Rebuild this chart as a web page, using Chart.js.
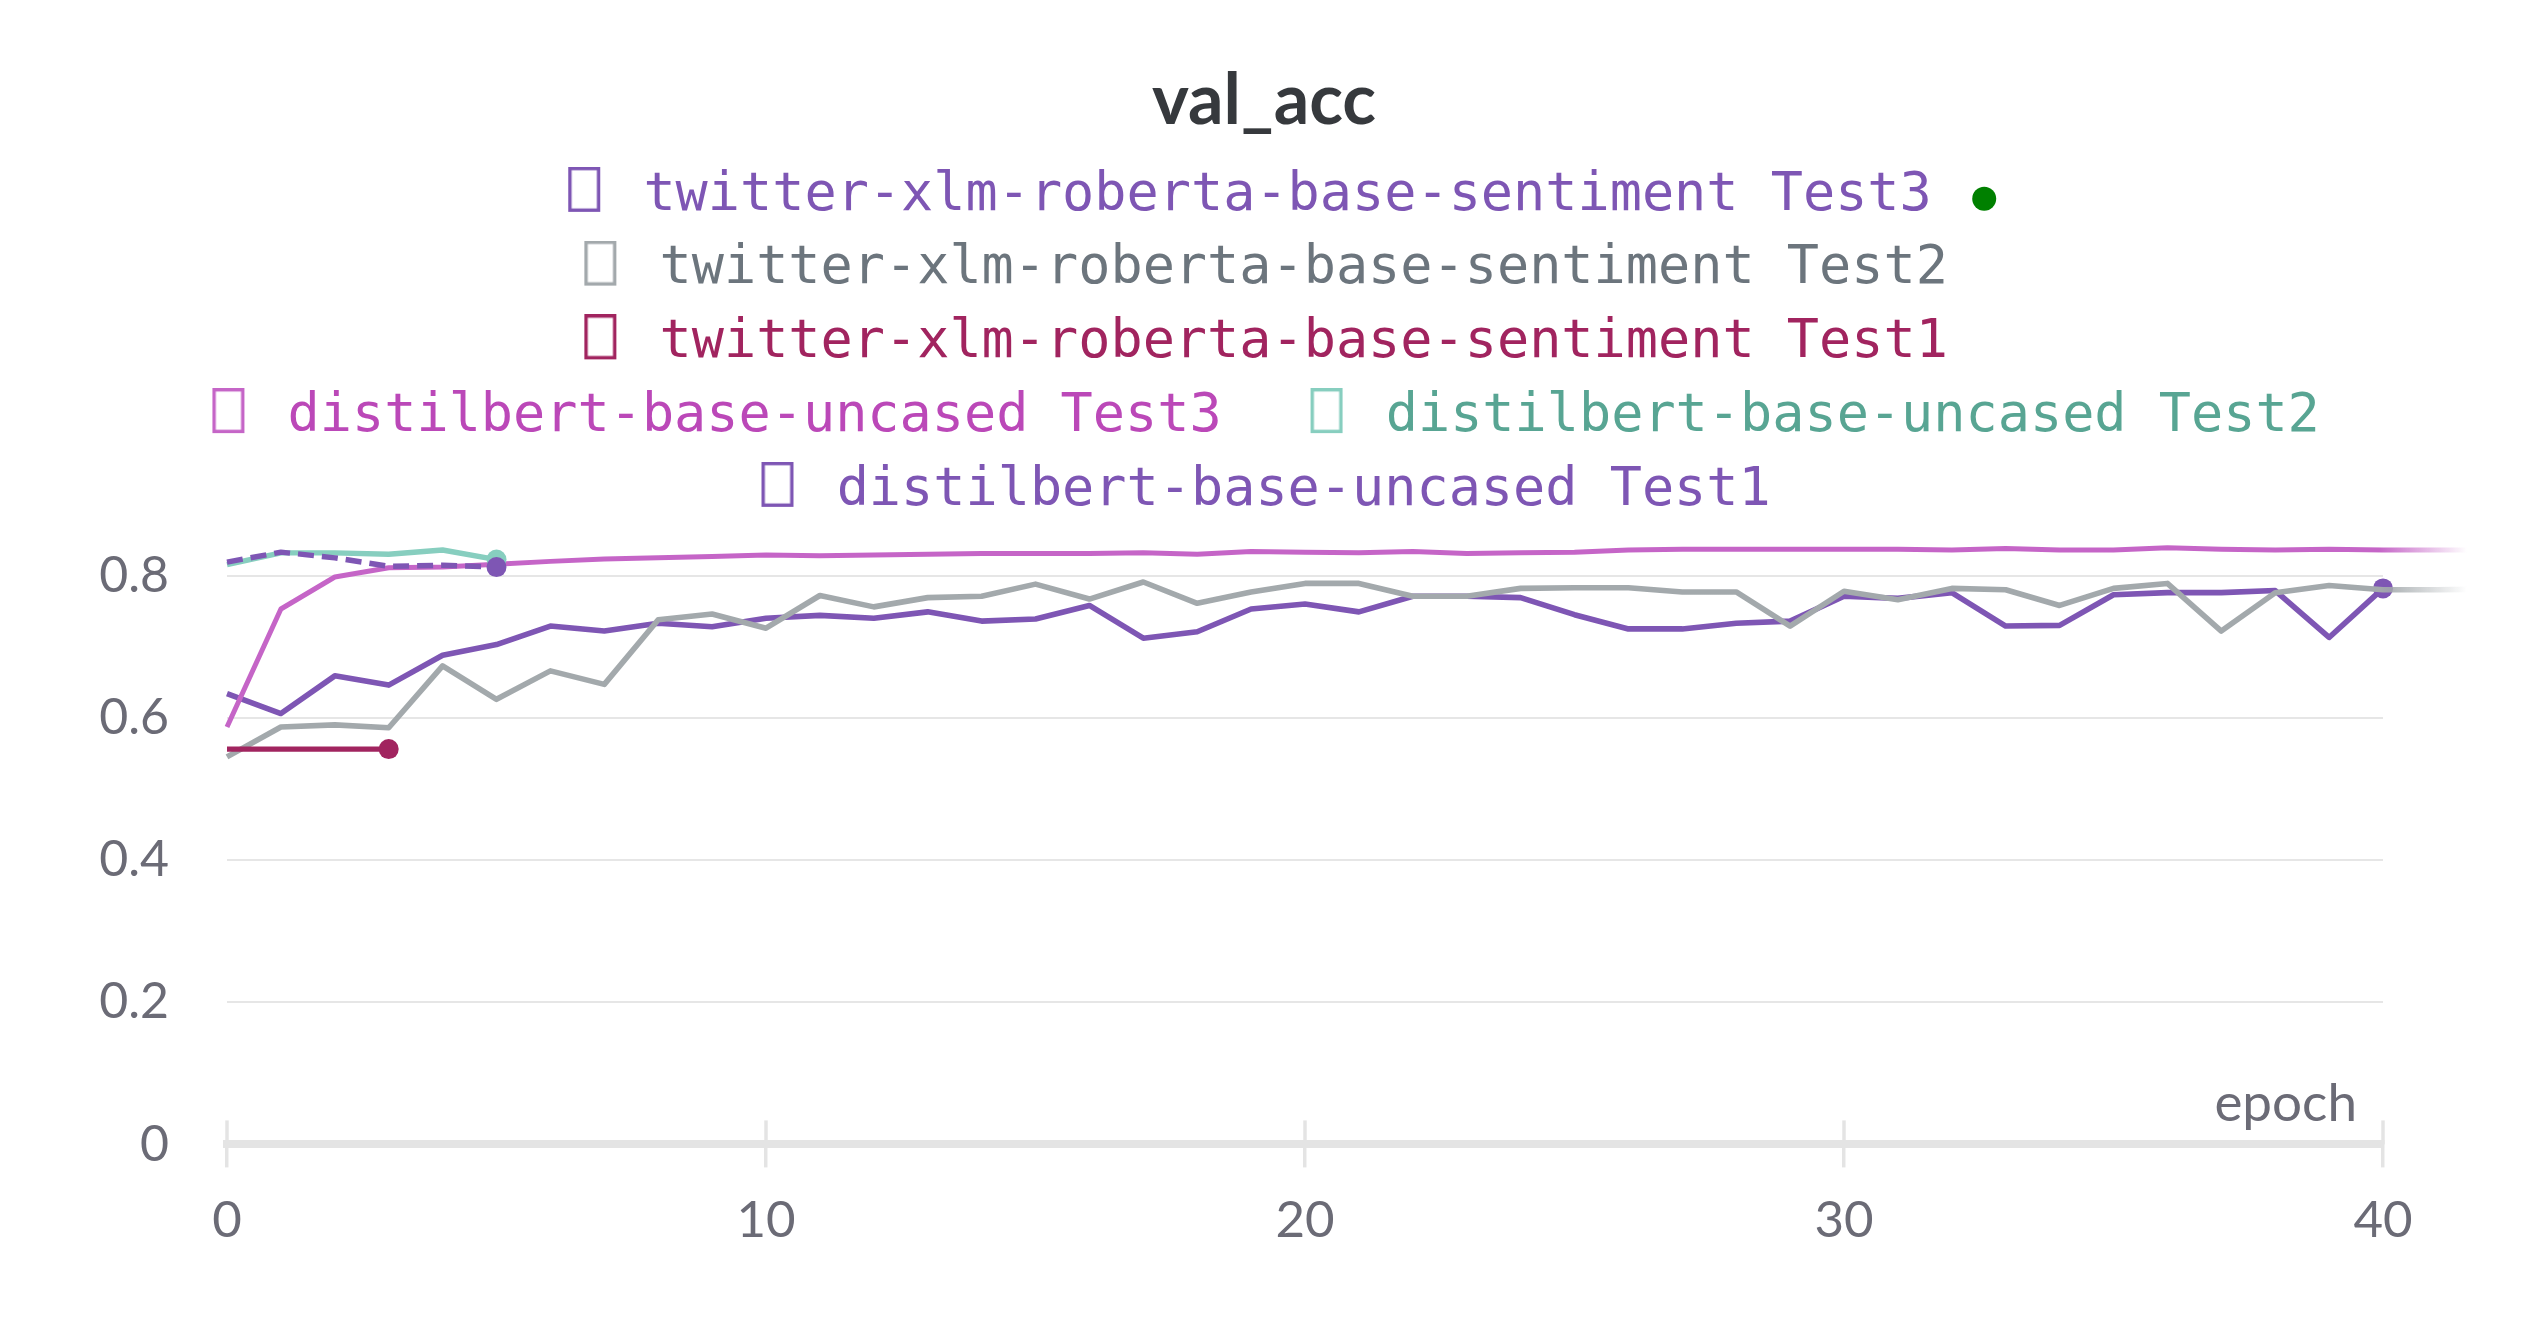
<!DOCTYPE html>
<html>
<head>
<meta charset="utf-8">
<script src="https://cdn.jsdelivr.net/npm/chart.js@4.4.0/dist/chart.umd.min.js"></script>
<style>
html,body{margin:0;padding:0;background:#ffffff;}
#wrap{width:2528px;height:1328px;position:relative;}
</style>
</head>
<body>
<div id="wrap"><canvas id="c" width="2528" height="1328"></canvas></div>
<script>
// ---------------- data ----------------
const chartTitle = 'val_acc';
const xAxisTitle = 'epoch';
const epochs = [0,1,2,3,4,5,6,7,8,9,10,11,12,13,14,15,16,17,18,19,20,21,22,23,24,25,26,27,28,29,30,31,32,33,34,35,36,37,38,39,40,41,42];
const xTicks = [0,10,20,30,40];
const yTicks = [0,0.2,0.4,0.6,0.8];

const seriesNames = [
  'twitter-xlm-roberta-base-sentiment Test3',
  'twitter-xlm-roberta-base-sentiment Test2',
  'twitter-xlm-roberta-base-sentiment Test1',
  'distilbert-base-uncased Test3',
  'distilbert-base-uncased Test2',
  'distilbert-base-uncased Test1'
];

// twitter-xlm-roberta-base-sentiment Test3 (epochs 0..40)
const twitterTest3 = [0.634,0.606,0.659,0.646,0.688,0.703,0.729,0.722,0.733,0.728,0.740,0.744,0.740,0.749,0.736,0.739,0.758,0.712,0.721,0.753,0.760,0.749,0.771,0.771,0.769,0.745,0.725,0.725,0.733,0.736,0.771,0.768,0.776,0.729,0.730,0.773,0.776,0.776,0.779,0.713,0.782];
// twitter-xlm-roberta-base-sentiment Test2 (epochs 0..42)
const twitterTest2 = [0.545,0.587,0.590,0.586,0.673,0.626,0.666,0.647,0.738,0.746,0.726,0.772,0.756,0.769,0.771,0.788,0.767,0.791,0.761,0.777,0.789,0.789,0.771,0.771,0.782,0.783,0.783,0.777,0.777,0.729,0.778,0.766,0.782,0.780,0.758,0.782,0.789,0.722,0.776,0.786,0.780,0.780,0.781];
// twitter-xlm-roberta-base-sentiment Test1 (epochs 0..3)
const twitterTest1 = [0.556,0.556,0.556,0.556];
// distilbert-base-uncased Test3 (epochs 0..42)
const distilTest3 = [0.587,0.753,0.798,0.811,0.812,0.816,0.820,0.8235,0.825,0.827,0.829,0.828,0.829,0.830,0.831,0.831,0.831,0.832,0.830,0.834,0.833,0.832,0.834,0.831,0.832,0.833,0.836,0.837,0.837,0.837,0.837,0.837,0.836,0.838,0.836,0.836,0.839,0.837,0.836,0.837,0.836,0.836,0.836];
// distilbert-base-uncased Test2 (epochs 0..5)
const distilTest2 = [0.8155,0.832,0.832,0.830,0.836,0.8225];
// distilbert-base-uncased Test1 (epochs 0..5)
const distilTest1 = [0.819,0.833,0.825,0.813,0.8145,0.812];

const seriesValues = [twitterTest3, twitterTest2, twitterTest1, distilTest3, distilTest2, distilTest1];

// ---------------- styles ----------------
const lineColors = ['#7e56b4','#a3a9ac','#a1245f','#c565c7','#87cebf','#7e56b4'];
const textColors = ['#7e56b4','#6c757d','#a1245f','#bb48b8','#58a593','#7e56b4'];
const lineWidths = [5.6,5.6,5.4,5.0,5.4,5.4];
const dashes = [[],[],[],[],[],[16,8]];
const endDots = [true,false,true,false,true,true];
const fades = [false,true,false,true,false,false];
const drawOrder = [6,5,4,3,2,1];
const axisTextColor = '#6b6b76';
const axisFont = 'Lato';

function fadeColor(hex) {
  return (ctx) => {
    const chart = ctx.chart;
    const a = chart.chartArea;
    if (!a) return hex;
    const g = chart.ctx.createLinearGradient(a.right - 4, 0, a.right + 84, 0);
    g.addColorStop(0, hex);
    g.addColorStop(1, hex + '00');
    return g;
  };
}

function boxImage(color) {
  const c = document.createElement('canvas');
  c.width = 54; c.height = 58;
  const g = c.getContext('2d');
  g.strokeStyle = color;
  g.lineWidth = 3.4;
  g.strokeRect(21 + 1.7, 1.7, 32 - 3.4, 45 - 3.4);
  return c;
}
const boxImages = lineColors.map(boxImage);

const datasets = seriesValues.map((vals, i) => {
  const last = vals.length - 1;
  return {
    label: seriesNames[i],
    data: vals.map((v, k) => ({x: epochs[k], y: v})),
    borderColor: fades[i] ? fadeColor(lineColors[i]) : lineColors[i],
    backgroundColor: lineColors[i],
    borderWidth: lineWidths[i],
    borderDash: dashes[i],
    borderCapStyle: 'butt',
    borderJoinStyle: 'round',
    tension: 0,
    fill: false,
    order: drawOrder[i],
    clip: {left: 20, top: 20, right: 88, bottom: 20},
    pointRadius: (ctx) => (endDots[i] && ctx.dataIndex === last) ? 10 : 0,
    pointHoverRadius: (ctx) => (endDots[i] && ctx.dataIndex === last) ? 10 : 0,
    pointBackgroundColor: lineColors[i],
    pointBorderColor: lineColors[i],
    pointBorderWidth: 0
  };
});

// ---------------- plugins ----------------
const extras = {
  id: 'extras',
  beforeDatasetsDraw(chart) {
    const x = chart.scales.x;
    const a = chart.chartArea;
    const ctx = chart.ctx;
    ctx.save();
    ctx.strokeStyle = '#e4e4e4';
    ctx.lineWidth = 3.5;
    x.ticks.forEach((t, i) => {
      const px = x.getPixelForTick(i);
      ctx.beginPath();
      ctx.moveTo(px, a.bottom - 24);
      ctx.lineTo(px, a.bottom);
      ctx.stroke();
    });
    ctx.restore();
  },
  afterDraw(chart) {
    const ctx = chart.ctx;
    const a = chart.chartArea;
    ctx.save();
    ctx.font = '400 53px ' + axisFont;
    ctx.fillStyle = axisTextColor;
    ctx.textAlign = 'right';
    ctx.textBaseline = 'alphabetic';
    ctx.fillText(xAxisTitle, a.right - 26, a.bottom - 23.5);
    // running indicator after the first legend entry
    const hb = chart.legend && chart.legend.legendHitBoxes && chart.legend.legendHitBoxes[0];
    if (hb) {
      ctx.fillStyle = '#008000';
      ctx.beginPath();
      ctx.arc(hb.left + hb.width - 12, hb.top + hb.height / 2 + 3, 12, 0, Math.PI * 2);
      ctx.fill();
    }
    ctx.restore();
  }
};

// ---------------- chart ----------------
new Chart(document.getElementById('c'), {
  type: 'line',
  data: {datasets},
  plugins: [extras],
  options: {
    responsive: false,
    animation: false,
    devicePixelRatio: 1,
    layout: {padding: {left: 60, right: 60, top: 0, bottom: 0}},
    plugins: {
      tooltip: {enabled: false},
      title: {
        display: true,
        text: chartTitle,
        color: '#36393d',
        font: {family: 'Lato', weight: 'bold', size: 70, lineHeight: 1.2},
        padding: {top: 59, bottom: 5.85}
      },
      legend: {
        display: true,
        position: 'top',
        align: 'center',
        labels: {
          usePointStyle: true,
          pointStyleWidth: 84.85,
          padding: 20.25,
          font: {family: 'DejaVu Sans Mono', size: 53.5},
          generateLabels: () => seriesNames.map((name, i) => ({
            text: name + (i === 0 ? '  ' : ' '),
            fontColor: textColors[i],
            pointStyle: boxImages[i],
            fillStyle: 'rgba(0,0,0,0)',
            strokeStyle: 'rgba(0,0,0,0)',
            lineWidth: 0,
            hidden: false,
            datasetIndex: i
          }))
        }
      }
    },
    scales: {
      x: {
        type: 'linear',
        afterDataLimits: (s) => { s.min = xTicks[0]; s.max = xTicks[xTicks.length - 1]; },
        afterFit: (s) => { s.height = 183.6; },
        afterBuildTicks: (s) => { s.ticks = xTicks.map(v => ({value: v})); s.min = xTicks[0]; s.max = xTicks[xTicks.length - 1]; },
        ticks: {
          stepSize: 10,
          padding: 23,
          color: axisTextColor,
          font: {family: axisFont, weight: '400', size: 51},
          maxRotation: 0,
          callback: (v) => String(v)
        },
        grid: {drawOnChartArea: false, drawTicks: true, tickLength: 23, color: '#e4e4e4', lineWidth: 3.5},
        border: {display: true, color: '#e4e4e4', width: 8}
      },
      y: {
        type: 'linear',
        position: 'left',
        min: 0,
        max: 0.8675,
        afterFit: (s) => { s.width = 167; },
        afterBuildTicks: (s) => { s.ticks = yTicks.map(v => ({value: v})); },
        ticks: {
          padding: 58,
          color: axisTextColor,
          font: {family: axisFont, weight: '400', size: 50},
          callback: (v) => (v === 0 ? '0' : Number(v).toFixed(1))
        },
        grid: {
          drawTicks: false,
          color: (ctx) => (ctx.tick && ctx.tick.value === 0) ? 'rgba(0,0,0,0)' : '#e6e6e6',
          lineWidth: 2
        },
        border: {display: false}
      },
      yRight: {
        type: 'linear',
        position: 'right',
        display: true,
        afterFit: (s) => { s.width = 85; },
        ticks: {display: false},
        grid: {display: false, drawOnChartArea: false},
        border: {display: false}
      }
    }
  }
});
</script>
</body>
</html>
